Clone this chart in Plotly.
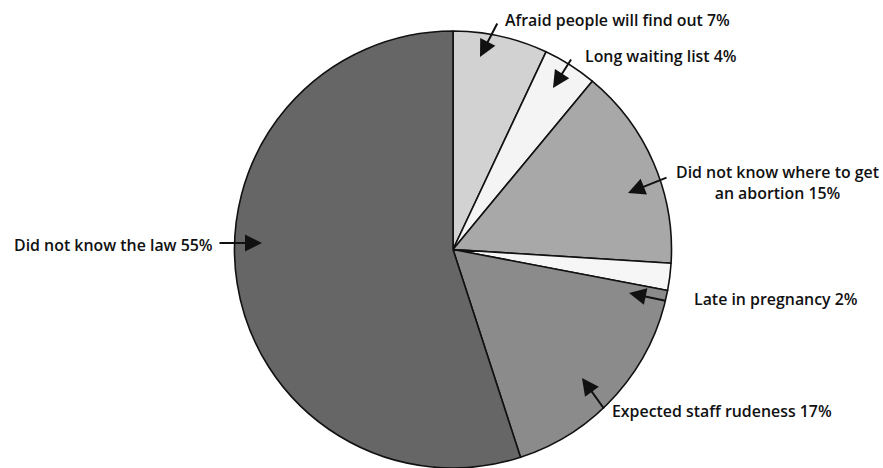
import plotly.graph_objects as go

categories = ["Afraid people will find out", "Long waiting list",
              "Did not know where to get an abortion", "Late in pregnancy",
              "Expected staff rudeness", "Did not know the law"]
values = [7, 4, 15, 2, 17, 55]
label_texts = ["Afraid people will find out 7%", "Long waiting list 4%",
               "Did not know where to get<br>an abortion 15%", "Late in pregnancy 2%",
               "Expected staff rudeness 17%", "Did not know the law 55%"]
colors = ["#d2d2d2", "#f4f4f4", "#a8a8a8", "#f6f6f6", "#8b8b8b", "#666666"]

W, H = 883, 468

fig = go.Figure(go.Pie(
    labels=categories, values=values, sort=False, direction="clockwise",
    rotation=0, textinfo="none", hoverinfo="label+percent",
    marker=dict(colors=colors, line=dict(color="#111111", width=1.6)),
    domain=dict(x=[234 / W, 672 / W], y=[0.0, 1 - 31 / H]),
    showlegend=False,
))

def px(x):
    return x / W

def py(y):
    return 1 - y / H

# text label positions (pixel), anchors
text_pos = [
    (503, 20, "left"),
    (583, 56, "left"),
    (777, 183, "center"),
    (692, 299, "left"),
    (610, 411, "left"),
    (12, 245, "left"),
]
# arrows: head (x,y), tail (x,y) in pixels
arrows = [
    ((480, 57), (498, 22)),
    ((553, 88), (572, 58)),
    ((628, 193), (668, 177)),
    ((629, 293), (667, 301)),
    ((582, 378), (605, 410)),
    ((262, 243), (218, 243)),
]

annotations = []
for txt, (x, y, anc) in zip(label_texts, text_pos):
    annotations.append(dict(
        x=px(x), y=py(y), xref="paper", yref="paper", text=txt,
        showarrow=False, xanchor=anc, yanchor="middle", align="center",
        font=dict(family="Open Sans, sans-serif", size=15.9, weight=600,
                  color="#111111"),
    ))
for (hx, hy), (tx, ty) in arrows:
    annotations.append(dict(
        x=px(hx), y=py(hy), xref="paper", yref="paper", text="",
        showarrow=True, ax=tx - hx, ay=ty - hy, arrowhead=2, arrowsize=1.7,
        arrowwidth=2, arrowcolor="#111111",
    ))

fig.update_layout(
    width=W, height=H, margin=dict(l=0, r=0, t=0, b=0),
    paper_bgcolor="white", plot_bgcolor="white",
    annotations=annotations,
)

fig.write_html("out.html")
